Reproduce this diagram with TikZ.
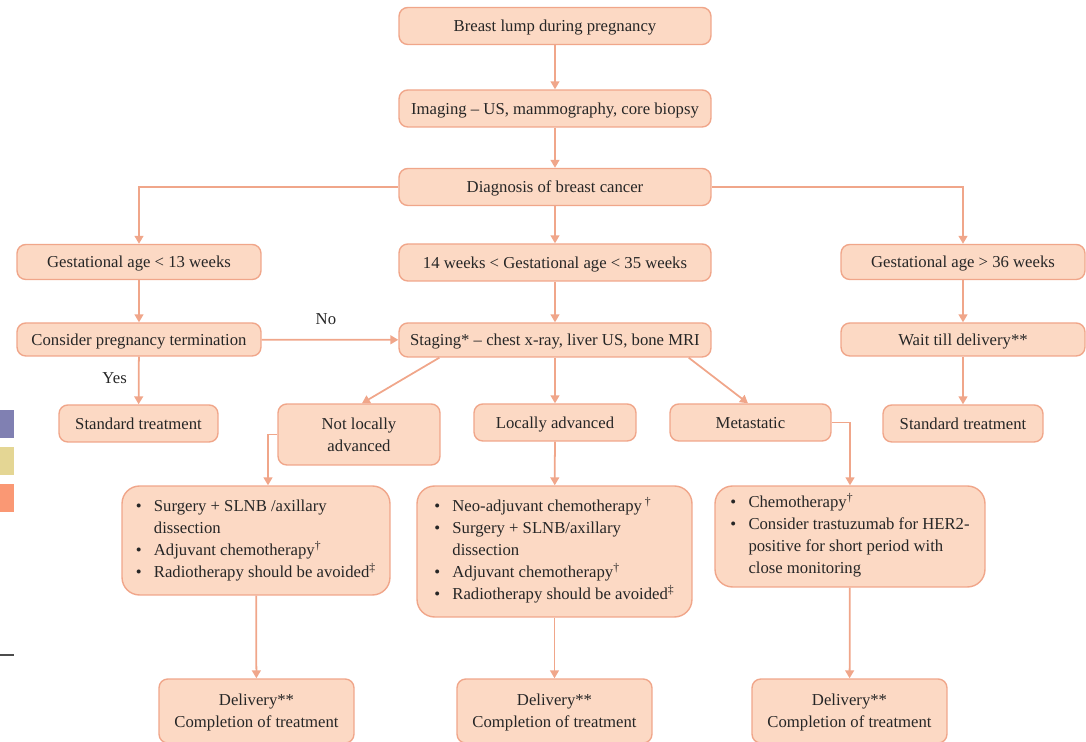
\documentclass[tikz,border=0pt]{standalone}
\usepackage{fontspec}
\setmainfont{Liberation Serif}
\usepackage{xcolor}
\usetikzlibrary{arrows.meta}

\definecolor{boxfill}{RGB}{252,217,196}
\definecolor{boxline}{RGB}{240,166,138}
\definecolor{keyblue}{RGB}{128,128,178}
\definecolor{keyyellow}{RGB}{228,214,148}
\definecolor{keyorange}{RGB}{250,152,116}

\begin{document}
\begin{tikzpicture}[x=0.02cm,y=-0.02cm,
    font=\fontsize{9.5}{12.5}\selectfont, text=black!85,
    box/.style={draw=boxline, fill=boxfill, line width=0.8pt, rounded corners=5pt,
                align=center, inner sep=2pt, text depth=0pt},
    wide/.style={box, minimum width=6.24cm, minimum height=0.74cm},
    side/.style={box, minimum width=4.88cm, minimum height=0.7cm},
    small/.style={box, minimum width=3.2cm, minimum height=0.74cm},
    plan/.style={draw=boxline, fill=boxfill, line width=0.8pt, rounded corners=10pt, inner sep=2pt},
    arrow/.style={draw=boxline, line width=1pt, -{Triangle[length=4.5pt,width=5pt]}}]

                \useasboundingbox (0,0) rectangle (1086,742);

                % bits of the key, cut at the left edge
                \fill[keyblue] (0,410) rectangle (14,438);
                \fill[keyyellow] (0,447) rectangle (14,475);
                \fill[keyorange] (0,484) rectangle (14,512);
                \draw[black!70, line width=1.2pt] (0,655) -- (14,655);

                \node[wide] (lump) at (555,26) {Breast lump during pregnancy};
                \node[wide] (imaging) at (555,108.5) {Imaging -- US, mammography, core biopsy};
                \node[wide] (diagnosis) at (555,187) {Diagnosis of breast cancer};

                \node[side] (early) at (139,262) {Gestational age < 13 weeks};
                \node[wide] (middle) at (555,262.5) {14 weeks < Gestational age < 35 weeks};
                \node[side] (late) at (963,262) {Gestational age > 36 weeks};

                \node[side, minimum height=0.66cm] (termination) at (139,339.5) {Consider pregnancy termination};
                \node[wide, minimum height=0.68cm] (staging) at (555,340) {Staging* -- chest x-ray, liver US, bone MRI};
                \node[side, minimum height=0.66cm] (wait) at (963,339.5) {Wait till delivery**};

                \node[small, minimum width=3.18cm] (stdleft) at (138.5,423.5) {Standard treatment};
                \node[small, minimum width=3.24cm, minimum height=1.22cm] (notlocal) at (359,434.5) {Not locally\\advanced};
                \node[small, minimum width=3.24cm] (local) at (555,422.5) {Locally advanced};
                \node[small, minimum width=3.22cm] (metastatic) at (750.5,422.5) {Metastatic};
                \node[small] (stdright) at (963,423.5) {Standard treatment};

                \node[plan, minimum width=5.36cm, minimum height=2.18cm] (plana) at (256,540.5)
                    {\begin{tabular}{@{}l@{\hspace{7pt}}l@{}}
                     \textbullet & Surgery + SLNB /axillary\\
                                 & dissection\\
                     \textbullet & Adjuvant chemotherapy\textsuperscript{†}\\
                     \textbullet & Radiotherapy should be avoided\textsuperscript{‡}
                     \end{tabular}};
                \node[plan, minimum width=5.5cm, minimum height=2.62cm] (planb) at (554.5,551.5)
                    {\begin{tabular}{@{}l@{\hspace{7pt}}l@{}}
                     \textbullet & Neo-adjuvant chemotherapy\,\textsuperscript{†}\\
                     \textbullet & Surgery + SLNB/axillary\\
                                 & dissection\\
                     \textbullet & Adjuvant chemotherapy\textsuperscript{†}\\
                     \textbullet & Radiotherapy should be avoided\textsuperscript{‡}
                     \end{tabular}};
                \node[plan, minimum width=5.4cm, minimum height=2.02cm] (planc) at (850,536.5)
                    {\begin{tabular}{@{}l@{\hspace{7pt}}l@{}}
                     \textbullet & Chemotherapy\textsuperscript{†}\\
                     \textbullet & Consider trastuzumab for HER2-\\
                                 & positive for short period with\\
                                 & close monitoring
                     \end{tabular}};

                \node[box, minimum width=3.9cm, minimum height=1.28cm] (deliverya) at (256.5,711) {Delivery**\\Completion of treatment};
                \node[box, minimum width=3.9cm, minimum height=1.28cm] (deliveryb) at (554.5,711) {Delivery**\\Completion of treatment};
                \node[box, minimum width=3.9cm, minimum height=1.28cm] (deliveryc) at (849.5,711) {Delivery**\\Completion of treatment};

                \draw[arrow] (lump) -- (imaging);
                \draw[arrow] (imaging) -- (diagnosis);
                \draw[arrow] (diagnosis) -- (middle);
                \draw[arrow] (diagnosis.west) -| (early.north);
                \draw[arrow] (diagnosis.east) -| (late.north);

                \draw[arrow] (early) -- (termination);
                \draw[arrow] (middle) -- (staging);
                \draw[arrow] (late) -- (wait);

                \draw[arrow] (termination) -- node[above=5pt, pos=0.47] {No} (staging);
                \draw[arrow] (termination) -- node[left=3pt, pos=0.45] {Yes} (stdleft);
                \draw[arrow] (wait) -- (stdright);

                \draw[arrow] ([xshift=0.82cm]staging.south west) -- ([xshift=0.06cm]notlocal.north);
                \draw[arrow] (staging) -- (local);
                \draw[arrow] ([xshift=-0.46cm]staging.south east) -- ([xshift=-0.05cm]metastatic.north);

                \draw[arrow] (notlocal.west) -| ([xshift=0.24cm]plana.north);
                \draw[arrow] (local) -- (planb);
                \draw[arrow] (metastatic.east) -| (planc.north);

                \draw[arrow] (plana) -- (deliverya);
                \draw[arrow] (planb) -- (deliveryb);
                \draw[arrow] (planc) -- (deliveryc);
            \end{tikzpicture}
\end{document}
